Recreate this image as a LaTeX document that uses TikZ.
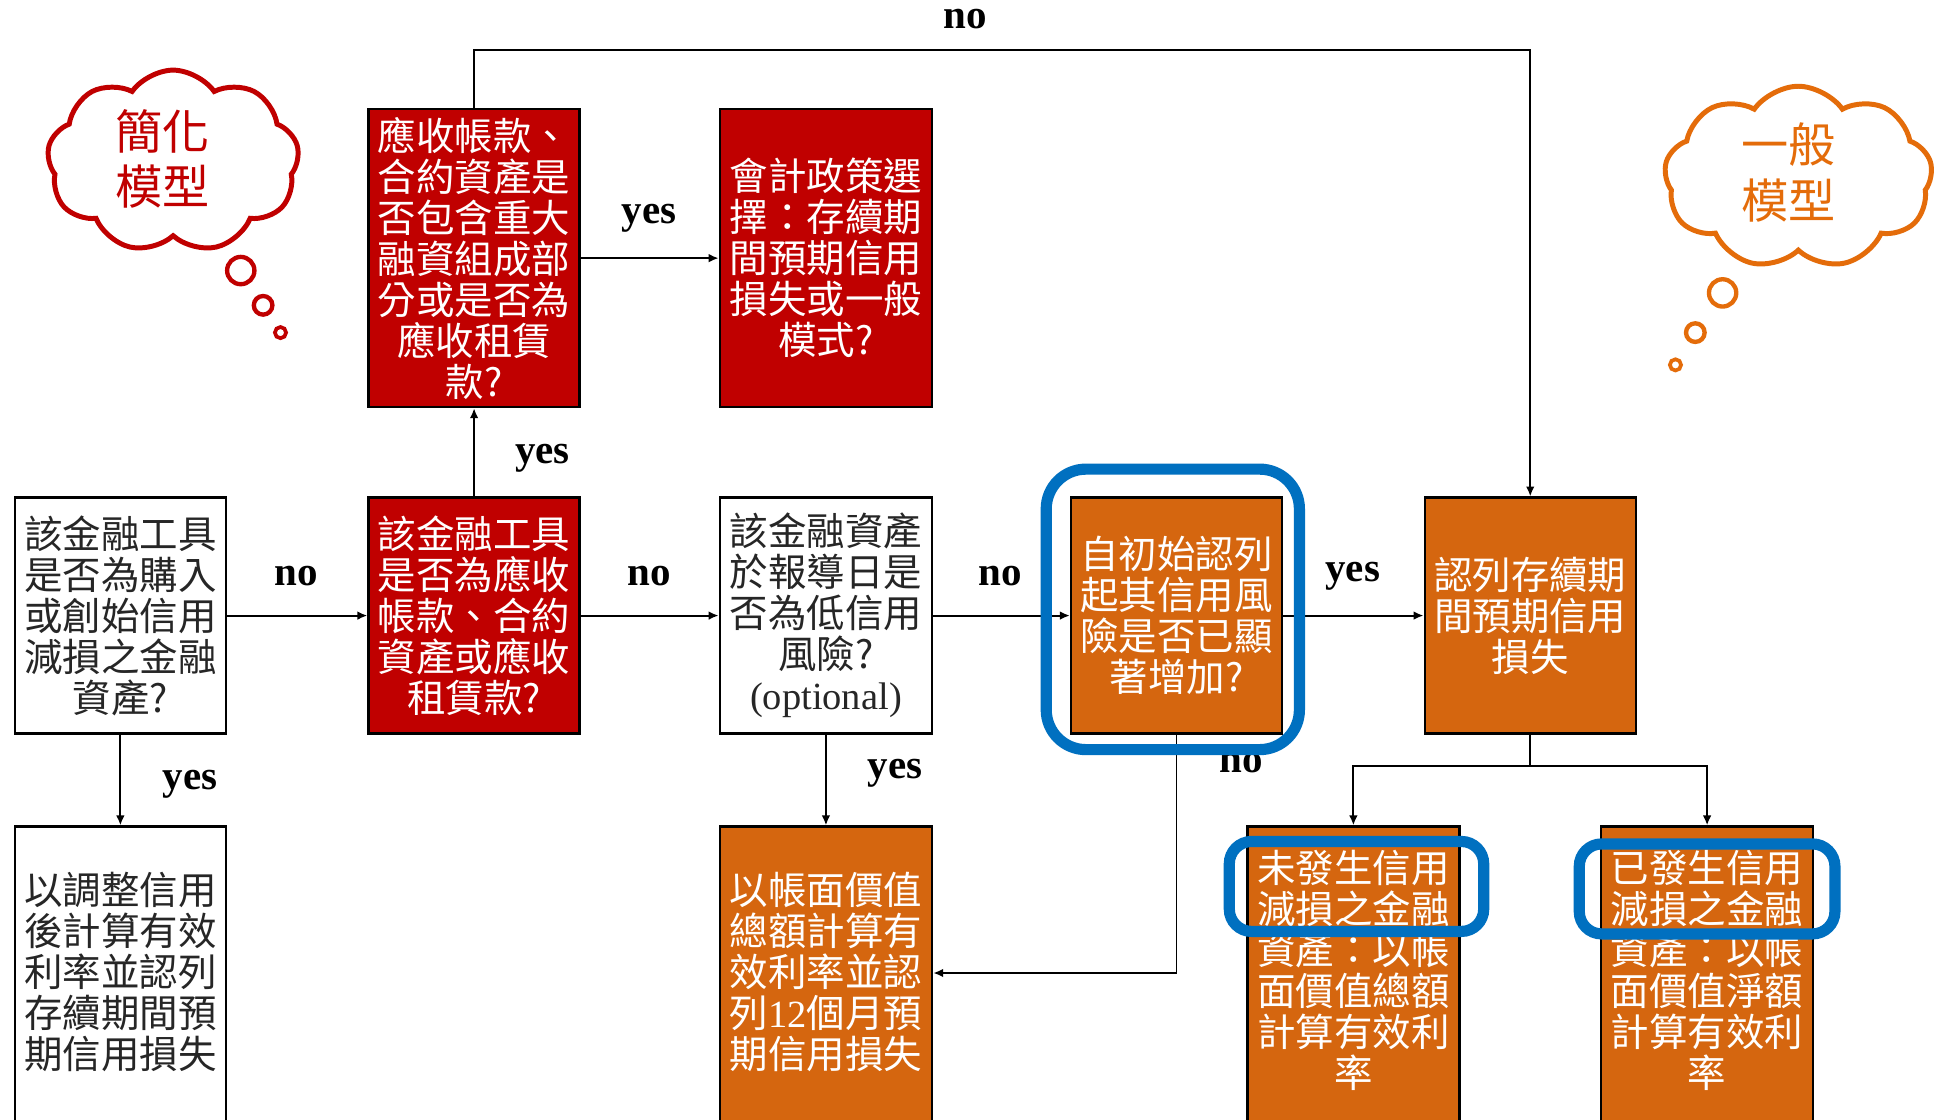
\documentclass[tikz,border=0pt]{standalone}
\usepackage{fontspec}
\setmainfont{Liberation Serif}
\newfontfamily\cjk{Noto Sans CJK TC}
\usetikzlibrary{arrows.meta,shapes.symbols,calc}
\definecolor{cred}{HTML}{C00000}
\definecolor{corange}{HTML}{D5660F}
\definecolor{cblue}{HTML}{0070C0}
\definecolor{ccloud}{HTML}{E46C0A}
\tikzset{
  box/.style={draw=black, line width=2pt, minimum width=170pt, minimum height=190pt,
    inner sep=0pt, align=center, font=\cjk\fontsize{31}{33}\selectfont},
  whitebox/.style={box, fill=white, text=black!85},
  redbox/.style={box, fill=cred, text=white},
  orangebox/.style={box, fill=corange, text=white},
  tallbox/.style={minimum height=260pt, anchor=north},
  boxtext/.style={align=center, inner sep=0pt, font=\cjk\fontsize{31}{33}\selectfont},
  arr/.style={line width=1.5pt, -{Latex[length=8pt,width=7pt]}},
  conn/.style={line width=1.5pt},
  lbl/.style={font=\bfseries\fontsize{33}{33}\selectfont, inner sep=1pt},
  ring/.style={draw=cblue, line width=9pt},
  thought/.style={cloud, cloud puffs=9, cloud puff arc=110, fill=white, line width=4pt, aspect=1.4},
  cloudtext/.style={align=center, inner sep=0pt, font=\cjk\fontsize{38}{45}\selectfont},
}
\begin{document}
\begin{tikzpicture}[x=1pt,y=-1pt]
\clip (0,0) rectangle (1568,902);
\fill[white] (0,0) rectangle (1568,902);

% boxes
\node[whitebox] (A) at (97,496) {該金融工具\\是否為購入\\或創始信用\\減損之金融\\資產?};
\node[whitebox, tallbox] (B) at (97,665) {};
\node[boxtext, text=black!85] (Bt) at (97,783) {以調整信用\\後計算有效\\利率並認列\\存續期間預\\期信用損失};

\node[redbox] (C) at (382,496) {該金融工具\\是否為應收\\帳款、合約\\資產或應收\\租賃款?};
\node[redbox, minimum height=240pt] (D) at (382,208) {應收帳款、\\合約資產是\\否包含重大\\融資組成部\\分或是否為\\應收租賃\\款?};
\node[redbox, minimum width=171pt, minimum height=240pt] (E) at (665.5,208) {會計政策選\\擇：存續期\\間預期信用\\損失或一般\\模式?};

\node[whitebox, minimum width=171pt] (F) at (665.5,496) {該金融資產\\於報導日是\\否為低信用\\風險?\\{\rmfamily (optional)}};
\node[orangebox, tallbox, minimum width=171pt] (G) at (665.5,665) {};
\node[boxtext, text=white] (Gt) at (665.5,783) {以帳面價值\\總額計算有\\效利率並認\\列{\rmfamily 12}個月預\\期信用損失};

\node[orangebox] (H) at (948,496) {自初始認列\\起其信用風\\險是否已顯\\著增加?};
\node[orangebox] (I) at (1233,496) {認列存續期\\間預期信用\\損失};

\node[orangebox, tallbox, minimum width=171pt] (J) at (1090.5,665) {};
\node[boxtext, text=white] (Jt) at (1090.5,782) {未發生信用\\減損之金融\\資產：以帳\\面價值總額\\計算有效利\\率};
\node[orangebox, tallbox, minimum width=171pt] (K) at (1375.5,665) {};
\node[boxtext, text=white] (Kt) at (1375.5,782) {已發生信用\\減損之金融\\資產：以帳\\面價值淨額\\計算有效利\\率};

% connectors
\draw[arr] (A.east) -- (C.west);
\draw[arr] (C.east) -- (F.west);
\draw[arr] (F.east) -- (H.west);
\draw[arr] (H.east) -- (I.west);
\draw[arr] (A.south) -- (B.north);
\draw[arr] (C.north) -- (D.south);
\draw[arr] (D.east) -- (E.west);
\draw[arr] (F.south) -- (G.north);
\draw[arr] (D.north) -- ++(0,-47) -| (I.north);
\draw[arr] (H.south) |- ($(G.north east)+(0,119)$);
\draw[conn] (I.south) -- ++(0,25) coordinate (split);
\draw[arr] (split) -| (J.north);
\draw[arr] (split) -| (K.north);

% labels
\node[lbl] (l1) at (239,464) {no};
\node[lbl] (l2) at (523,464) {no};
\node[lbl] (l3) at (806,464) {no};
\node[lbl] (l4) at (1090,464) {yes};
\node[lbl] (l5) at (153,632) {yes};
\node[lbl] (l6) at (437,369) {yes};
\node[lbl] (l7) at (523,176) {yes};
\node[lbl, text height=15pt, text depth=0pt, anchor=base] (l8) at (778,23) {no};
\node[lbl] (l9) at (721,623) {yes};
\node[lbl] (l10) at (1000,615) {no};

% highlight rings
\draw[ring, rounded corners=32pt] (843,378) rectangle (1047,604);
\draw[ring, rounded corners=18pt] (990.5,678) rectangle (1195.5,750.5);
\draw[ring, rounded corners=18pt] (1272.5,680) rectangle (1478.5,752.5);

% thought clouds
\node[thought, draw=cred, minimum width=203pt, minimum height=147pt] (cloudR) at (139.5,130) {};
\node[cloudtext, text=cred] (cloudRt) at (131,128) {簡化\\模型};
\draw[cred, line width=3.5pt] (194,218) circle[radius=11pt];
\draw[cred, line width=3.5pt] (212,246) circle[radius=7.5pt];
\draw[cred, line width=3pt] (226,268) circle[radius=4.5pt];

\node[thought, draw=ccloud, minimum width=216pt, minimum height=147pt] (cloudO) at (1449,143) {};
\node[cloudtext, text=ccloud] (cloudOt) at (1441,139) {一般\\模型};
\draw[ccloud, line width=3.5pt] (1388,236) circle[radius=11pt];
\draw[ccloud, line width=3.5pt] (1366,268) circle[radius=7.5pt];
\draw[ccloud, line width=3pt] (1350,294) circle[radius=4.5pt];
\end{tikzpicture}
\end{document}
